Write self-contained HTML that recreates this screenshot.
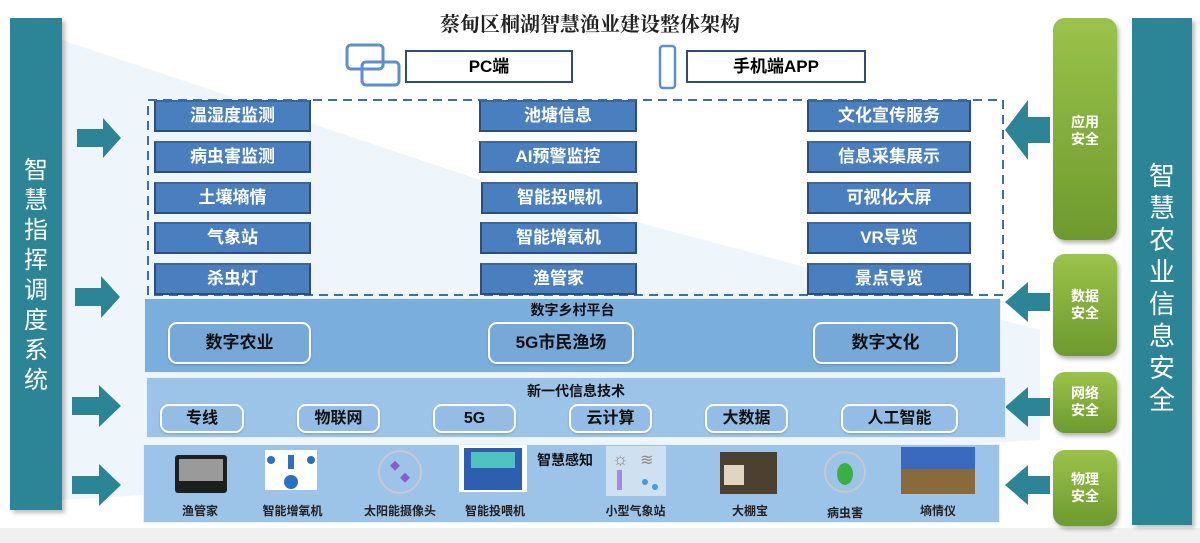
<!DOCTYPE html>
<html><head><meta charset="utf-8"><style>
*{margin:0;padding:0;box-sizing:border-box}
body{width:1200px;height:543px;position:relative;overflow:hidden;background:#fff;font-family:"Liberation Sans","Noto Sans CJK SC",sans-serif}
.a{position:absolute}
.vbar{background:#2b8596;color:#fff;font-size:24px;line-height:30px;text-align:center;box-shadow:3px 3px 4px rgba(0,0,0,.25)}
.bx{position:absolute;height:32px;background:#4a7fbf;border:2px solid #2c4e78;border-top-color:#3c669c;color:#fff;font-weight:bold;font-size:17px;line-height:28px;text-align:center}
.band{position:absolute;border:1px solid #e8f1fa}
.rb{position:absolute;border:2px solid #fff;border-radius:9px;color:#111;font-weight:bold;text-align:center;box-shadow:0 1px 2px rgba(0,0,0,.2)}
.g{position:absolute;left:1053px;width:64px;border-radius:12px;background:linear-gradient(#9bc34a,#6d9a2e);color:#fff;font-weight:bold;font-size:14px;line-height:17px;text-align:center;box-shadow:2px 3px 4px rgba(0,0,0,.3)}
.lbl{position:absolute;font-size:12px;font-weight:bold;color:#222;text-align:center}
</style></head><body>
<svg class="a" style="left:0;top:0" width="1200" height="543">
<polygon points="62,40 480,180 1040,330 1040,440 62,500" fill="#eef6fb"/>
<rect x="0" y="528" width="1200" height="15" fill="#f0f0f0"/>
<rect x="148" y="100" width="855" height="195" fill="none" stroke="#3f6ea8" stroke-width="2" stroke-dasharray="9,6"/>
<g fill="#2b8596">
<polygon points="77,129 103,129 103,118 121,138 103,158 103,147 77,147"/>
<polygon points="75,288 101,288 101,276 120,297 101,318 101,306 75,306"/>
<polygon points="72,397 99,397 99,385 121,406 99,427 99,415 72,415"/>
<polygon points="72,476 99,476 99,464 121,485 99,506 99,494 72,494"/>
<polygon points="1050,117 1028,117 1028,100 1005,130 1028,160 1028,143 1050,143"/>
<polygon points="1050,293 1028,293 1028,282 1005,302 1028,322 1028,311 1050,311"/>
<polygon points="1050,398 1028,398 1028,387 1005,407 1028,427 1028,416 1050,416"/>
<polygon points="1050,476 1028,476 1028,465 1005,485 1028,505 1028,494 1050,494"/>
</g>
<g fill="none" stroke="#5b8fd0" stroke-width="3">
<rect x="347" y="45" width="36" height="24" rx="4"/>
<rect x="362" y="62" width="37" height="23" rx="4"/>
<rect x="660" y="46" width="15" height="42" rx="3" stroke-width="2.5"/>
</g>
</svg>
<div class="a" style="left:0;top:8px;width:1180px;text-align:center;font-family:'Liberation Serif','Noto Serif CJK SC',serif;font-weight:bold;font-size:20px;color:#222">蔡甸区桐湖智慧渔业建设整体架构</div>
<div class="a" style="left:405px;top:50px;width:168px;height:33px;border:2px solid #2c4e78;font-weight:bold;font-size:17px;line-height:29px;text-align:center">PC端</div>
<div class="a" style="left:686px;top:50px;width:180px;height:33px;border:2px solid #2c4e78;font-weight:bold;font-size:17px;line-height:29px;text-align:center">手机端APP</div>
<div class="a vbar" style="left:10px;top:18px;width:52px;height:492px;padding-top:138px">智<br>慧<br>指<br>挥<br>调<br>度<br>系<br>统</div>
<div class="a vbar" style="left:1132px;top:18px;width:60px;height:507px;padding-top:142px;font-size:26px;line-height:32px">智<br>慧<br>农<br>业<br>信<br>息<br>安<br>全</div>

<div class="bx" style="left:154px;top:100px;width:157px">温湿度监测</div>
<div class="bx" style="left:154px;top:141px;width:157px">病虫害监测</div>
<div class="bx" style="left:154px;top:182px;width:157px">土壤墒情</div>
<div class="bx" style="left:154px;top:222px;width:157px">气象站</div>
<div class="bx" style="left:154px;top:263px;width:157px">杀虫灯</div>
<div class="bx" style="left:479px;top:100px;width:158px">池塘信息</div>
<div class="bx" style="left:479px;top:141px;width:158px">AI预警监控</div>
<div class="bx" style="left:481px;top:182px;width:157px">智能投喂机</div>
<div class="bx" style="left:480px;top:222px;width:157px">智能增氧机</div>
<div class="bx" style="left:480px;top:263px;width:157px">渔管家</div>
<div class="bx" style="left:807px;top:100px;width:164px">文化宣传服务</div>
<div class="bx" style="left:807px;top:141px;width:164px">信息采集展示</div>
<div class="bx" style="left:807px;top:182px;width:164px">可视化大屏</div>
<div class="bx" style="left:807px;top:222px;width:164px">VR导览</div>
<div class="bx" style="left:807px;top:263px;width:164px">景点导览</div>

<div class="band" style="left:144px;top:298px;width:857px;height:75px;background:#7aaedc"></div>
<div class="a" style="left:144px;top:300px;width:857px;text-align:center;font-weight:bold;font-size:14px;color:#111">数字乡村平台</div>
<div class="rb" style="left:168px;top:322px;width:143px;height:42px;line-height:38px;font-size:17px;background:#76a9d8">数字农业</div>
<div class="rb" style="left:488px;top:322px;width:146px;height:42px;line-height:38px;font-size:17px;background:#76a9d8">5G市民渔场</div>
<div class="rb" style="left:813px;top:322px;width:145px;height:42px;line-height:38px;font-size:17px;background:#76a9d8">数字文化</div>

<div class="band" style="left:146px;top:377px;width:860px;height:61px;background:#9cc4e8"></div>
<div class="a" style="left:146px;top:381px;width:860px;text-align:center;font-weight:bold;font-size:14px;color:#111">新一代信息技术</div>
<div class="rb" style="left:160px;top:404px;width:84px;height:29px;line-height:25px;font-size:16px;background:#93bde4">专线</div>
<div class="rb" style="left:297px;top:404px;width:83px;height:29px;line-height:25px;font-size:16px;background:#93bde4">物联网</div>
<div class="rb" style="left:433px;top:404px;width:83px;height:29px;line-height:25px;font-size:16px;background:#93bde4">5G</div>
<div class="rb" style="left:569px;top:404px;width:83px;height:29px;line-height:25px;font-size:16px;background:#93bde4">云计算</div>
<div class="rb" style="left:705px;top:404px;width:83px;height:29px;line-height:25px;font-size:16px;background:#93bde4">大数据</div>
<div class="rb" style="left:841px;top:404px;width:117px;height:29px;line-height:25px;font-size:16px;background:#93bde4">人工智能</div>

<div class="band" style="left:143px;top:444px;width:857px;height:79px;background:#9cc4e8"></div>
<svg class="a" style="left:0;top:0" width="1200" height="543">
<rect x="175" y="455" width="52" height="38" rx="3" fill="#1e1e1e"/><rect x="179" y="459" width="44" height="22" fill="#9a9a9a"/>
<rect x="265" y="450" width="52" height="40" fill="#fff"/><circle cx="291" cy="482" r="7" fill="#2a6fc0"/><circle cx="271" cy="460" r="4" fill="#2a6fc0"/><circle cx="311" cy="460" r="4" fill="#2a6fc0"/><rect x="288" y="455" width="6" height="14" fill="#2a6fc0"/>
<circle cx="400" cy="472" r="21" fill="none" stroke="#c8c8d8" stroke-width="2"/><rect x="392" y="462" width="7" height="7" fill="#8a5ad0" transform="rotate(45 395 465)"/><rect x="402" y="474" width="7" height="7" fill="#8a5ad0" transform="rotate(45 405 477)"/>
<rect x="459" y="445" width="68" height="47" fill="#fff"/><rect x="464" y="448" width="58" height="42" fill="#2c5fb0"/><rect x="471" y="452" width="44" height="16" fill="#4ec3c0"/>
<rect x="606" y="446" width="60" height="50" fill="#cfe0f0"/><text x="612" y="465" font-size="18" fill="#888">☼</text><text x="640" y="465" font-size="16" fill="#888">≋</text><rect x="617" y="470" width="5" height="20" fill="#a888e0"/><circle cx="645" cy="482" r="3" fill="#3aa0e0"/><circle cx="655" cy="487" r="3" fill="#3aa0e0"/>
<rect x="720" y="452" width="57" height="42" fill="#4c4030"/><rect x="724" y="465" width="20" height="20" fill="#e0d6c0"/>
<circle cx="845" cy="472" r="20" fill="none" stroke="#c8c8c8" stroke-width="2"/><ellipse cx="845" cy="474" rx="8" ry="11" fill="#3ab040"/>
<rect x="901" y="447" width="74" height="47" fill="#8a6a3a"/><rect x="901" y="447" width="74" height="22" fill="#3a6ac0"/>
</svg>
<div class="a" style="left:537px;top:450px;font-weight:bold;font-size:14px;color:#111">智慧感知</div>
<div class="lbl" style="left:170px;top:502px;width:60px">渔管家</div>
<div class="lbl" style="left:255px;top:502px;width:75px">智能增氧机</div>
<div class="lbl" style="left:355px;top:502px;width:90px">太阳能摄像头</div>
<div class="lbl" style="left:455px;top:502px;width:80px">智能投喂机</div>
<div class="lbl" style="left:598px;top:502px;width:75px">小型气象站</div>
<div class="lbl" style="left:720px;top:502px;width:60px">大棚宝</div>
<div class="lbl" style="left:815px;top:504px;width:60px">病虫害</div>
<div class="lbl" style="left:908px;top:502px;width:60px">墒情仪</div>

<div class="g" style="top:18px;height:222px;padding-top:96px">应用<br>安全</div>
<div class="g" style="top:254px;height:102px;padding-top:34px">数据<br>安全</div>
<div class="g" style="top:372px;height:61px;padding-top:13px">网络<br>安全</div>
<div class="g" style="top:450px;height:76px;padding-top:21px">物理<br>安全</div>
</body></html>
